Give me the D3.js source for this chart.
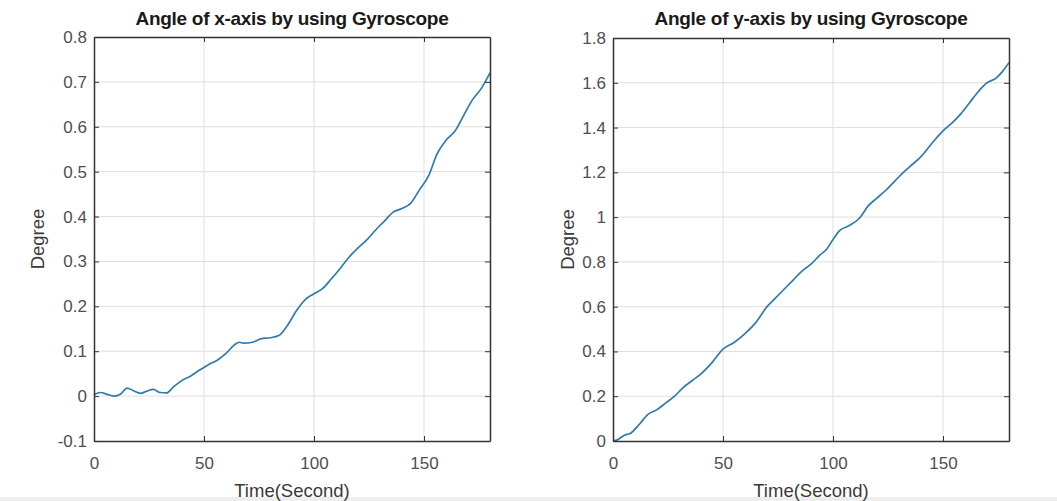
<!DOCTYPE html>
<html>
<head>
<meta charset="utf-8">
<script src="https://cdn.jsdelivr.net/npm/d3@7"></script>
<style>
  body { margin: 0; background: #fff; }
  text { font-family: "Liberation Sans", Arial, sans-serif; }
</style>
</head>
<body>
<svg id="drawing_region"></svg>
<script>
const width = 1057;
const height = 501;

// left panel: angle of x-axis
const x_time = [0, 3, 6, 9, 12, 15, 18, 21, 24, 27, 30, 33, 36, 40, 44, 48, 52, 56, 60, 64, 66, 68, 72, 76, 80, 84, 88, 92, 96, 100, 104, 108, 112, 116, 120, 124, 128, 132, 136, 140, 144, 148, 152, 156, 160, 164, 168, 172, 176, 180];
const x_angle = [0.003, 0.008, 0.004, 0.0, 0.004, 0.018, 0.012, 0.006, 0.011, 0.015, 0.008, 0.007, 0.02, 0.035, 0.045, 0.058, 0.07, 0.08, 0.095, 0.115, 0.12, 0.118, 0.12, 0.128, 0.13, 0.135, 0.158, 0.19, 0.215, 0.228, 0.24, 0.262, 0.285, 0.31, 0.33, 0.348, 0.37, 0.39, 0.41, 0.418, 0.43, 0.46, 0.49, 0.54, 0.57, 0.59, 0.625, 0.66, 0.685, 0.72];

// right panel: angle of y-axis
const y_time = [0, 2, 5, 8, 12, 16, 20, 24, 28, 32, 36, 40, 45, 50, 55, 60, 65, 70, 73, 77, 82, 86, 90, 94, 97, 100, 103, 107, 112, 116, 120, 124, 128, 132, 136, 140, 145, 150, 154, 158, 162, 166, 170, 174, 177, 180];
const y_angle = [0, 0.005, 0.025, 0.035, 0.075, 0.12, 0.14, 0.17, 0.2, 0.24, 0.27, 0.3, 0.35, 0.41, 0.44, 0.48, 0.53, 0.6, 0.63, 0.67, 0.72, 0.76, 0.79, 0.83, 0.855, 0.9, 0.94, 0.96, 0.995, 1.05, 1.085, 1.12, 1.16, 1.2, 1.235, 1.27, 1.33, 1.385, 1.42, 1.46, 1.51, 1.56, 1.6, 1.62, 1.65, 1.69];

const time_ticks = [0, 50, 100, 150];
const x_angle_ticks = [-0.1, 0, 0.1, 0.2, 0.3, 0.4, 0.5, 0.6, 0.7, 0.8];
const y_angle_ticks = [0, 0.2, 0.4, 0.6, 0.8, 1, 1.2, 1.4, 1.6, 1.8];

const svg = d3.select('#drawing_region')
    .attr('width', width)
    .attr('height', height);

svg.append("rect")
    .attr("x", 0).attr("y", 497)
    .attr("width", width).attr("height", 4)
    .attr("fill", "#eeeeee");

function panel(opt) {
    const g = svg.append("g");
    const xscale = d3.scaleLinear().domain([0, 180]).range([opt.left, opt.right]);
    const yscale = d3.scaleLinear().domain(opt.ydomain).range([opt.bottom, opt.top]);

    // grid
    g.selectAll("line.vgrid")
        .data(time_ticks.slice(1))
        .join("line")
        .attr("x1", d => xscale(d)).attr("x2", d => xscale(d))
        .attr("y1", opt.top).attr("y2", opt.bottom)
        .attr("stroke", "#dedede").attr("stroke-width", 1);
    g.selectAll("line.hgrid")
        .data(opt.yticks.slice(1, -1))
        .join("line")
        .attr("x1", opt.left).attr("x2", opt.right)
        .attr("y1", d => yscale(d)).attr("y2", d => yscale(d))
        .attr("stroke", "#dedede").attr("stroke-width", 1);

    // data line
    const pts = opt.t.map((t, i) => [t, opt.v[i]]);
    g.append("path")
        .datum(pts)
        .attr("d", d3.line().x(d => xscale(d[0])).y(d => yscale(d[1])).curve(d3.curveMonotoneX))
        .attr("fill", "none")
        .attr("stroke", "#2f7ca8")
        .attr("stroke-width", 1.7);

    // axes, ticks inward on all sides
    const axisStyle = sel => {
        sel.select(".domain").attr("stroke", "#333").attr("stroke-width", 1.5);
        sel.selectAll(".tick line").attr("stroke", "#333");
        sel.selectAll(".tick text").attr("fill", "#4f4f4f").attr("font-size", 17)
            .attr("font-family", "Liberation Sans, Arial, sans-serif");
    };
    g.append("g")
        .attr("transform", `translate(0,${opt.bottom})`)
        .call(d3.axisBottom(xscale).tickValues(time_ticks).tickSizeInner(-5).tickSizeOuter(0).tickPadding(16))
        .call(axisStyle);
    g.append("g")
        .attr("transform", `translate(0,${opt.top})`)
        .call(d3.axisTop(xscale).tickValues(time_ticks).tickSizeInner(-5).tickSizeOuter(0).tickFormat(""))
        .call(axisStyle);
    g.append("g")
        .attr("transform", `translate(${opt.left},0)`)
        .call(d3.axisLeft(yscale).tickValues(opt.yticks).tickSizeInner(-5).tickSizeOuter(0).tickPadding(7)
            .tickFormat(d => String(d)))
        .call(axisStyle);
    g.append("g")
        .attr("transform", `translate(${opt.right},0)`)
        .call(d3.axisRight(yscale).tickValues(opt.yticks).tickSizeInner(-5).tickSizeOuter(0).tickFormat(""))
        .call(axisStyle);

    // texts
    const cx = (opt.left + opt.right) / 2;
    g.append("text")
        .attr("x", cx).attr("y", 25)
        .attr("text-anchor", "middle")
        .attr("font-size", 19).attr("font-weight", "bold")
        .attr("letter-spacing", -0.3)
        .attr("fill", "#1a1a1a")
        .text(opt.title);
    g.append("text")
        .attr("x", cx).attr("y", 497)
        .attr("text-anchor", "middle")
        .attr("font-size", 18.5)
        .attr("fill", "#3a3a3a")
        .text("Time(Second)");
    g.append("text")
        .attr("transform", `translate(${opt.ylabelx},${(opt.top + opt.bottom) / 2}) rotate(-90)`)
        .attr("text-anchor", "middle")
        .attr("font-size", 18.5)
        .attr("fill", "#3a3a3a")
        .text("Degree");
}

panel({
    left: 94, right: 490, top: 37, bottom: 441,
    ydomain: [-0.1, 0.8], yticks: x_angle_ticks,
    t: x_time, v: x_angle, ylabelx: 44,
    title: "Angle of x-axis by using Gyroscope"
});

panel({
    left: 613, right: 1009, top: 38, bottom: 441,
    ydomain: [0, 1.8], yticks: y_angle_ticks,
    t: y_time, v: y_angle, ylabelx: 574,
    title: "Angle of y-axis by using Gyroscope"
});
</script>
</body>
</html>
